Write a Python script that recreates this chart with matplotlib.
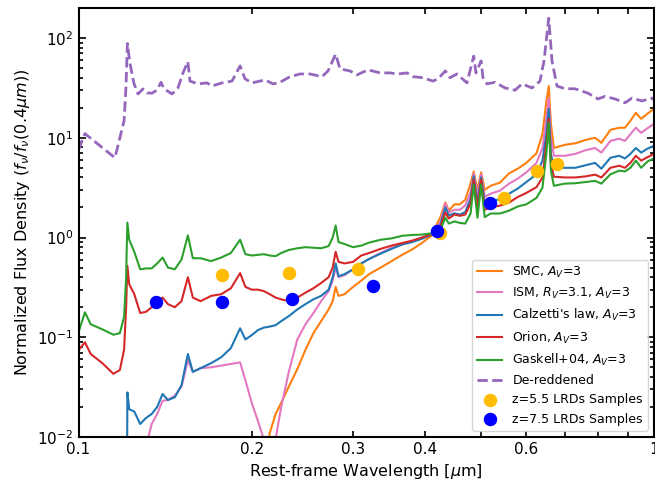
import numpy as np
import matplotlib
matplotlib.use("Agg")
import matplotlib.pyplot as plt
from matplotlib.ticker import NullFormatter

# rest-frame wavelength grid (micron) shared by the attenuated templates
wave = [0.100, 0.1026, 0.105, 0.110, 0.115, 0.118, 0.120, 0.121, 0.1213, 0.1216,
        0.1225, 0.125, 0.128, 0.131, 0.134, 0.137, 0.140, 0.143, 0.147, 0.151,
        0.1549, 0.158, 0.163, 0.170, 0.177, 0.184, 0.1909, 0.195, 0.200, 0.205,
        0.210, 0.215, 0.220, 0.225, 0.232, 0.240, 0.248, 0.256, 0.264, 0.272,
        0.2765, 0.2798, 0.283, 0.290, 0.300, 0.310, 0.320, 0.335, 0.350, 0.365,
        0.380, 0.395, 0.410, 0.425, 0.434, 0.440, 0.450, 0.460, 0.470, 0.480,
        0.4861, 0.4935, 0.5007, 0.508, 0.520, 0.540, 0.560, 0.580, 0.600, 0.625,
        0.640, 0.650, 0.6563, 0.662, 0.670, 0.700, 0.730, 0.760, 0.790, 0.810,
        0.840, 0.870, 0.890, 0.910, 0.930, 0.950, 0.975, 1.000]

# normalized flux, A_V = 3 (values below 0.01 fall off the plot)
smc = [0.001, 0.001, 0.001, 0.001, 0.001, 0.001, 0.001, 0.001, 0.001, 0.001,
       0.001, 0.001, 0.001, 0.001, 0.001, 0.001, 0.001, 0.001, 0.001, 0.001,
       0.001, 0.001, 0.001, 0.001, 0.001, 0.001, 0.001, 0.001, 0.001, 0.001,
       0.005, 0.011, 0.017, 0.022, 0.032, 0.048, 0.075, 0.11, 0.145, 0.19,
       0.23, 0.32, 0.26, 0.27, 0.32, 0.37, 0.43, 0.5, 0.58, 0.67,
       0.76, 0.88, 1.04, 1.58, 2.24, 1.86, 2.15, 2.15, 2.4, 3.47,
       4.6, 3.0, 4.5, 3.0, 3.3, 3.55, 4.4, 4.9, 5.6, 7.0,
       10.9, 23, 33, 13.8, 7.9, 8.5, 8.8, 9.5, 10, 8.9,
       12, 12.6, 12.6, 14.8, 17.8, 15.5, 17.5, 19.5]

ism = [0.001, 0.001, 0.001, 0.001, 0.001, 0.001, 0.001, 0.001, 0.001, 0.001,
       0.001, 0.001, 0.001, 0.008, 0.0135, 0.017, 0.023, 0.0235, 0.026, 0.032,
       0.059, 0.045, 0.049, 0.05, 0.052, 0.054, 0.056, 0.037, 0.022, 0.0145,
       0.0094, 0.006, 0.0095, 0.02, 0.045, 0.095, 0.135, 0.175, 0.23, 0.29,
       0.37, 0.5, 0.4, 0.42, 0.48, 0.55, 0.61, 0.7, 0.79, 0.86,
       0.92, 0.98, 1.07, 1.41, 2.19, 1.78, 1.9, 1.9, 2.1, 2.82,
       4.4, 2.63, 4.3, 2.55, 2.75, 2.95, 3.47, 3.9, 4.5, 5.6,
       7.9, 15.8, 25, 10, 6.6, 6.6, 6.9, 7.5, 7.9, 7.1,
       9.3, 9.8, 9.3, 10.9, 12.6, 11.2, 12.5, 13.8]

calzetti = [0.001, 0.001, 0.001, 0.001, 0.001, 0.001, 0.001, 0.001, 0.001, 0.028,
            0.019, 0.018, 0.0135, 0.0155, 0.017, 0.02, 0.027, 0.0235, 0.025, 0.033,
            0.068, 0.045, 0.049, 0.055, 0.063, 0.078, 0.123, 0.095, 0.105, 0.118,
            0.125, 0.128, 0.132, 0.145, 0.163, 0.19, 0.215, 0.24, 0.26, 0.3,
            0.4, 0.55, 0.41, 0.43, 0.48, 0.55, 0.61, 0.69, 0.77, 0.85,
            0.9, 0.97, 1.07, 1.32, 2.0, 1.66, 1.75, 1.7, 1.8, 2.45,
            4.1, 2.19, 4.0, 2.2, 2.24, 2.45, 2.75, 3.1, 3.6, 4.3,
            5.9, 10.9, 19.5, 6.9, 5.0, 5.0, 5.0, 5.3, 5.6, 4.9,
            6.3, 6.6, 6.2, 6.9, 7.9, 7.1, 7.8, 8.3]

orion = [0.074, 0.089, 0.068, 0.055, 0.043, 0.047, 0.075, 0.2, 0.33, 0.52,
         0.34, 0.27, 0.175, 0.18, 0.2, 0.22, 0.25, 0.215, 0.2, 0.23,
         0.4, 0.25, 0.23, 0.26, 0.27, 0.31, 0.44, 0.32, 0.3, 0.3,
         0.29, 0.27, 0.25, 0.24, 0.23, 0.25, 0.28, 0.31, 0.35, 0.4,
         0.5, 0.72, 0.57, 0.55, 0.57, 0.66, 0.7, 0.77, 0.83, 0.88,
         0.93, 1.0, 1.08, 1.26, 1.78, 1.55, 1.7, 1.65, 1.7, 2.19,
         3.8, 1.95, 3.8, 1.9, 2.0, 2.09, 2.24, 2.55, 2.8, 3.2,
         4.0, 8.7, 15.5, 5.5, 4.07, 4.0, 4.0, 4.1, 4.27, 4.0,
         5.0, 5.25, 5.0, 5.6, 6.6, 5.9, 6.4, 6.9]

gaskell = [0.112, 0.178, 0.135, 0.12, 0.106, 0.11, 0.16, 0.4, 0.8, 1.41,
           0.95, 0.72, 0.48, 0.49, 0.49, 0.55, 0.63, 0.5, 0.48, 0.6,
           1.05, 0.62, 0.62, 0.58, 0.63, 0.7, 0.95, 0.68, 0.66, 0.67,
           0.68, 0.66, 0.65, 0.7, 0.75, 0.78, 0.8, 0.79, 0.78, 0.82,
           1.0, 1.32, 0.9, 0.86, 0.8, 0.83, 0.89, 0.95, 0.98, 1.04,
           1.06, 1.07, 1.1, 1.17, 1.58, 1.38, 1.45, 1.4, 1.38, 1.74,
           3.4, 1.58, 3.4, 1.6, 1.74, 1.74, 1.86, 2.05, 2.15, 2.5,
           3.16, 6.9, 14.1, 4.7, 3.3, 3.47, 3.5, 3.6, 3.7, 3.47,
           4.3, 4.68, 4.6, 5.0, 5.9, 5.0, 5.8, 6.2]

# de-reddened spectrum
dered_wave = [0.1000, 0.1026, 0.1157, 0.1200, 0.1209, 0.1216, 0.1229, 0.1249, 0.1269, 0.1294,
              0.1315, 0.1342, 0.1369, 0.1391, 0.1408, 0.1454, 0.1489, 0.1519, 0.1549, 0.1562,
              0.1613, 0.1672, 0.1706, 0.1776, 0.1848, 0.1909, 0.1947, 0.2002, 0.2109, 0.2178,
              0.2240, 0.2331, 0.2426, 0.2525, 0.2649, 0.2714, 0.2798, 0.2847, 0.2963, 0.3047,
              0.3184, 0.3341, 0.3477, 0.3590, 0.3722, 0.3812, 0.3968, 0.4130, 0.4213, 0.4340,
              0.4421, 0.4546, 0.4732, 0.4861, 0.4905, 0.5007, 0.5045, 0.5126, 0.5293, 0.5509,
              0.5734, 0.5897, 0.6138, 0.6337, 0.6440, 0.6563, 0.6649, 0.6783, 0.7004, 0.7290,
              0.7679, 0.7993, 0.8220, 0.8556, 0.8905, 0.9158, 0.9532, 0.9920, 1.0000]
dered_flux = [7.6, 11.0, 6.3, 14.8, 31.6, 88, 55, 34.7, 27.5, 30.9,
              28.2, 28, 30, 36, 31, 27.5, 31.6, 44.7, 58, 37,
              34.7, 35.5, 33, 35.5, 37, 52.5, 39, 35.5, 38, 34.7,
              36, 41, 43.6, 43.6, 41, 46.8, 69, 49, 46.8, 42.7,
              48, 44.7, 44.7, 43.6, 44.7, 41, 40, 37, 39, 46.8,
              40, 43.6, 35.5, 66, 44.7, 59, 40, 34.7, 36, 31.6,
              30, 34.7, 31.6, 37, 59, 158, 59, 33, 31, 31,
              28, 24.5, 26, 24.5, 22.4, 25, 23.4, 25, 24]

# LRD photometry
z55_wave = [0.1776, 0.2322, 0.3060, 0.4249, 0.5487, 0.6262, 0.6783]
z55_flux = [0.417, 0.437, 0.479, 1.12, 2.51, 4.68, 5.5]
z75_wave = [0.1363, 0.1775, 0.2347, 0.3252, 0.4192, 0.5188]
z75_flux = [0.225, 0.225, 0.244, 0.324, 1.156, 2.22]

fig = plt.figure(figsize=(6.55, 4.83), dpi=100)
ax = fig.add_axes([78.5 / 655, 46 / 483, 575.5 / 655, 429 / 483])

lw = 1.5
ax.plot(wave, smc, color='tab:orange', lw=lw, label='SMC, $A_V$=3')
ax.plot(wave, ism, color='tab:pink', lw=lw, label='ISM, $R_V$=3.1, $A_V$=3')
ax.plot(wave, calzetti, color='tab:blue', lw=lw, label="Calzetti's law, $A_V$=3")
ax.plot(wave, orion, color='tab:red', lw=lw, label='Orion, $A_V$=3')
ax.plot(wave, gaskell, color='tab:green', lw=lw, label='Gaskell+04, $A_V$=3')
ax.plot(dered_wave, dered_flux, color='tab:purple', lw=2, ls='--', label='De-reddened')
ax.scatter(z55_wave, z55_flux, s=75, color='#ffbc00', zorder=5, label='z=5.5 LRDs Samples')
ax.scatter(z75_wave, z75_flux, s=75, color='blue', zorder=5, label='z=7.5 LRDs Samples')

ax.set_xscale('log')
ax.set_yscale('log')
ax.set_xlim(0.1, 1)
ax.set_ylim(0.01, 200)

ax.set_xticks([0.1, 0.2, 0.3, 0.4, 0.6, 1])
ax.set_xticklabels(['0.1', '0.2', '0.3', '0.4', '0.6', '1'])
ax.set_xticks([0.5, 0.7, 0.8, 0.9], minor=True)
ax.xaxis.set_minor_formatter(NullFormatter())

ax.tick_params(which='both', direction='in', top=True, right=True, width=1.2, labelsize=11)
ax.tick_params(axis='y', which='major', length=5)
ax.tick_params(axis='y', which='minor', length=3)
ax.tick_params(axis='x', which='both', length=4)
for sp in ax.spines.values():
    sp.set_linewidth(1.5)

ax.set_xlabel(r'Rest-frame Wavelength [$\mu$m]', fontsize=11.5)
ax.set_ylabel(r'Normalized Flux Density ($f_{\nu}/f_{\nu}(0.4\mu m)$)', fontsize=11.5)

ax.legend(loc='lower right', fontsize=9)

fig.savefig('out.png', dpi=100)
